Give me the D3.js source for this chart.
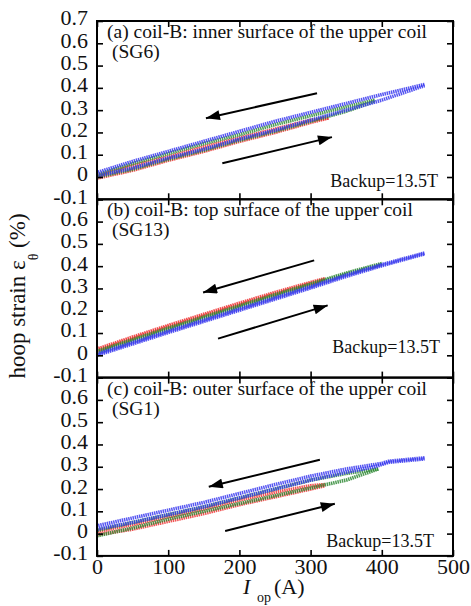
<!DOCTYPE html>
<html>
<head>
<meta charset="utf-8">
<script src="https://cdn.jsdelivr.net/npm/d3@7"></script>
<style>
  body { margin: 0; background: #fff; }
  text { font-family: "Liberation Serif", "DejaVu Serif", serif; fill: #111; }
</style>
</head>
<body>
<div id="chart"></div>
<script>
// hoop strain vs operating current, three gauges

var currentTicks = [0, 100, 200, 300, 400, 500];
var strainTicks = [-0.1, 0, 0.1, 0.2, 0.3, 0.4, 0.5, 0.6, 0.7];

var panelTitles = ["(a) coil-B: inner surface of the upper coil",
                   "(b) coil-B: top surface of the upper coil",
                   "(c) coil-B: outer surface of the upper coil"];
var gaugeNames = ["(SG6)", "(SG13)", "(SG1)"];
var backupLabel = "Backup=13.5T";

// (a) SG6  [I (A), strain (%)]
var sg6RedUp = [[0,-0.005],[50,0.03],[100,0.075],[150,0.115],[200,0.16],[250,0.2],[300,0.245],[325,0.265]];
var sg6RedDown = [[325,0.265],[300,0.255],[250,0.215],[200,0.175],[150,0.135],[100,0.09],[50,0.05],[0,0.005]];
var sg6GreenUp = [[0,0],[50,0.035],[100,0.08],[150,0.12],[200,0.165],[250,0.205],[300,0.25],[350,0.295],[390,0.34]];
var sg6GreenDown = [[390,0.345],[350,0.315],[300,0.275],[250,0.235],[200,0.19],[150,0.15],[100,0.105],[50,0.06],[0,0.01]];
var sg6BlueUp = [[0,0.005],[50,0.04],[100,0.085],[150,0.125],[200,0.17],[250,0.21],[300,0.255],[350,0.3],[400,0.345],[460,0.41]];
var sg6BlueDown = [[460,0.415],[400,0.37],[350,0.33],[300,0.29],[250,0.25],[200,0.205],[150,0.16],[100,0.115],[50,0.07],[0,0.02]];

// (b) SG13
var sg13RedUp = [[0,0.022],[50,0.076],[100,0.128],[150,0.178],[200,0.228],[250,0.276],[300,0.322],[320,0.34]];
var sg13RedDown = [[320,0.344],[300,0.327],[250,0.282],[200,0.234],[150,0.184],[100,0.134],[50,0.082],[0,0.028]];
var sg13GreenUp = [[0,0.012],[50,0.064],[100,0.116],[150,0.166],[200,0.216],[250,0.266],[300,0.314],[350,0.364],[400,0.408]];
var sg13GreenDown = [[400,0.412],[350,0.369],[300,0.32],[250,0.272],[200,0.222],[150,0.172],[100,0.122],[50,0.07],[0,0.018]];
var sg13BlueUp = [[0,0.0],[50,0.051],[100,0.102],[150,0.152],[200,0.202],[250,0.252],[300,0.302],[350,0.354],[400,0.402],[460,0.455]];
var sg13BlueDown = [[460,0.459],[400,0.407],[350,0.36],[300,0.308],[250,0.258],[200,0.208],[150,0.158],[100,0.108],[50,0.057],[0,0.006]];

// (c) SG1
var sg1RedUp = [[0,-0.005],[50,0.02],[100,0.055],[150,0.09],[200,0.13],[250,0.165],[300,0.2],[320,0.215]];
var sg1RedDown = [[320,0.22],[300,0.215],[250,0.185],[200,0.15],[150,0.11],[100,0.075],[50,0.04],[0,0.01]];
var sg1GreenUp = [[0,-0.01],[50,0.025],[100,0.065],[150,0.1],[200,0.135],[250,0.17],[300,0.205],[350,0.24],[395,0.29]];
var sg1GreenDown = [[395,0.29],[350,0.27],[300,0.24],[250,0.2],[200,0.16],[150,0.12],[100,0.085],[50,0.05],[0,0.015]];
var sg1BlueUp = [[0,0.02],[50,0.05],[100,0.085],[150,0.12],[200,0.16],[250,0.2],[300,0.24],[350,0.275],[390,0.3],[410,0.32],[460,0.335]];
var sg1BlueDown = [[460,0.34],[410,0.325],[400,0.315],[350,0.29],[300,0.258],[250,0.22],[200,0.18],[150,0.14],[100,0.105],[50,0.07],[0,0.035]];

// direction arrows [from, to] in data units
var sg6Arrows = [[[309,0.376],[153,0.264]], [[176,0.062],[330,0.179]]];
var sg13Arrows = [[[305,0.426],[149,0.282]], [[170,0.075],[324,0.224]]];
var sg1Arrows = [[[313,0.331],[157,0.21]], [[180,0.012],[334,0.134]]];

var panels = [
  {runs: [sg6RedUp, sg6RedDown, sg6GreenUp, sg6GreenDown, sg6BlueUp, sg6BlueDown], arrows: sg6Arrows},
  {runs: [sg13RedUp, sg13RedDown, sg13GreenUp, sg13GreenDown, sg13BlueUp, sg13BlueDown], arrows: sg13Arrows},
  {runs: [sg1RedUp, sg1RedDown, sg1GreenUp, sg1GreenDown, sg1BlueUp, sg1BlueDown], arrows: sg1Arrows}
];
var runColors = ["#ee3535", "#ee3535", "#2f8a35", "#2f8a35", "#3838ee", "#3838ee"];
var backupPos = [[438, 187], [440, 353], [434, 547]];

var w_width = 471, w_height = 606;
var left = 97, plotW = 356, top0 = 21, panelH = 178.3;

var svg = d3.select('#chart').append('svg')
  .attr('width', w_width)
  .attr('height', w_height)

var x = d3.scaleLinear().domain([0, 500]).range([0, plotW]);
var y = d3.scaleLinear().domain([-0.1, 0.7]).range([panelH, 0]);

var defs = svg.append('defs');
defs.append('marker').attr('id', 'head')
  .attr('markerUnits', 'userSpaceOnUse')
  .attr('viewBox', '0 0 14 10').attr('refX', 14).attr('refY', 5)
  .attr('markerWidth', 15).attr('markerHeight', 10)
  .attr('orient', 'auto')
  .append('path').attr('d', 'M0,0 L14,5 L0,10 Z').attr('fill', '#000');

var line = d3.line().x(function(d) {return x(d[0])}).y(function(d) {return y(d[1])});

panels.forEach(function(p, k) {
  var g = svg.append('g').attr('transform', 'translate(' + left + ',' + (top0 + k*panelH) + ')');

  // data
  g.selectAll('path.run').data(p.runs).enter().append('path')
    .attr('class', 'run')
    .attr('d', line)
    .attr('fill', 'none')
    .attr('stroke', function(d, i) {return runColors[i]})
    .attr('stroke-width', 3.6)
    .attr('stroke-dasharray', '1.5,0.7')
    .attr('opacity', 0.85);

  // arrows
  g.selectAll('line.arrow').data(p.arrows).enter().append('line')
    .attr('class', 'arrow')
    .attr('x1', function(d) {return x(d[0][0])}).attr('y1', function(d) {return y(d[0][1])})
    .attr('x2', function(d) {return x(d[1][0])}).attr('y2', function(d) {return y(d[1][1])})
    .attr('stroke', '#000').attr('stroke-width', 2)
    .attr('marker-end', 'url(#head)');

  // axes (ticks inward)
  var yl = g.append('g').call(d3.axisLeft(y).tickValues(strainTicks).tickSize(-6).tickPadding(9)
    .tickFormat(function(d) {return Math.abs(d) < 1e-9 ? '0' : d.toFixed(1)}));
  if (k > 0) yl.selectAll('.tick text').filter(function(d) {return d > 0.65}).remove();
  g.append('g').attr('transform', 'translate(' + plotW + ',0)')
    .call(d3.axisRight(y).tickValues(strainTicks).tickSize(-6));
  g.append('g').call(d3.axisTop(x).tickValues(currentTicks).tickSize(-6));
  var xb = g.append('g').attr('class', 'xb').attr('transform', 'translate(0,' + panelH + ')')
    .call(d3.axisBottom(x).tickValues(currentTicks).tickSize(-6).tickPadding(2).tickFormat(d3.format('d')));

  g.selectAll('.domain').remove();
  // only the left axis and the bottom of the last panel carry labels
  g.selectAll('.tick text').filter(function() {
    var par = this.parentNode.parentNode;
    return par !== yl.node() && !(k == 2 && par === xb.node());
  }).remove();
  g.selectAll('.tick line').attr('stroke', '#000').attr('stroke-width', 1.6);
  g.selectAll('.tick text').style('font-family', '"Liberation Serif", serif').style('font-size', '22px').attr('fill', '#111');
  yl.selectAll('.tick text').attr('dy', '0.18em');

  g.append('rect').attr('width', plotW).attr('height', panelH)
    .attr('fill', 'none').attr('stroke', '#000').attr('stroke-width', 2);

  // labels
  g.append('text').attr('x', 10).attr('y', 17).style('font-size', '19.5px').text(panelTitles[k]);
  g.append('text').attr('x', 15).attr('y', 37).style('font-size', '19.5px').text(gaugeNames[k]);
  svg.append('text').attr('x', backupPos[k][0]).attr('y', backupPos[k][1])
    .attr('text-anchor', 'end').style('font-size', '18px').text(backupLabel);
});

// axis titles
var yt = svg.append('text').attr('transform', 'translate(25,296) rotate(-90)')
  .attr('text-anchor', 'middle').style('font-size', '23px');
yt.append('tspan').text('hoop strain \u03b5');
yt.append('tspan').attr('dy', 13).style('font-size', '14px').text('\u03b8');
yt.append('tspan').attr('dy', -13).text(' (%)');

var xt = svg.append('text').attr('x', 243).attr('y', 594).style('font-size', '22px');
xt.append('tspan').style('font-style', 'italic').text('I');
xt.append('tspan').attr('x', 257).attr('dy', 8).style('font-size', '14px').text('op');
xt.append('tspan').attr('x', 274).attr('dy', -8).text('(A)');
</script>
</body>
</html>
